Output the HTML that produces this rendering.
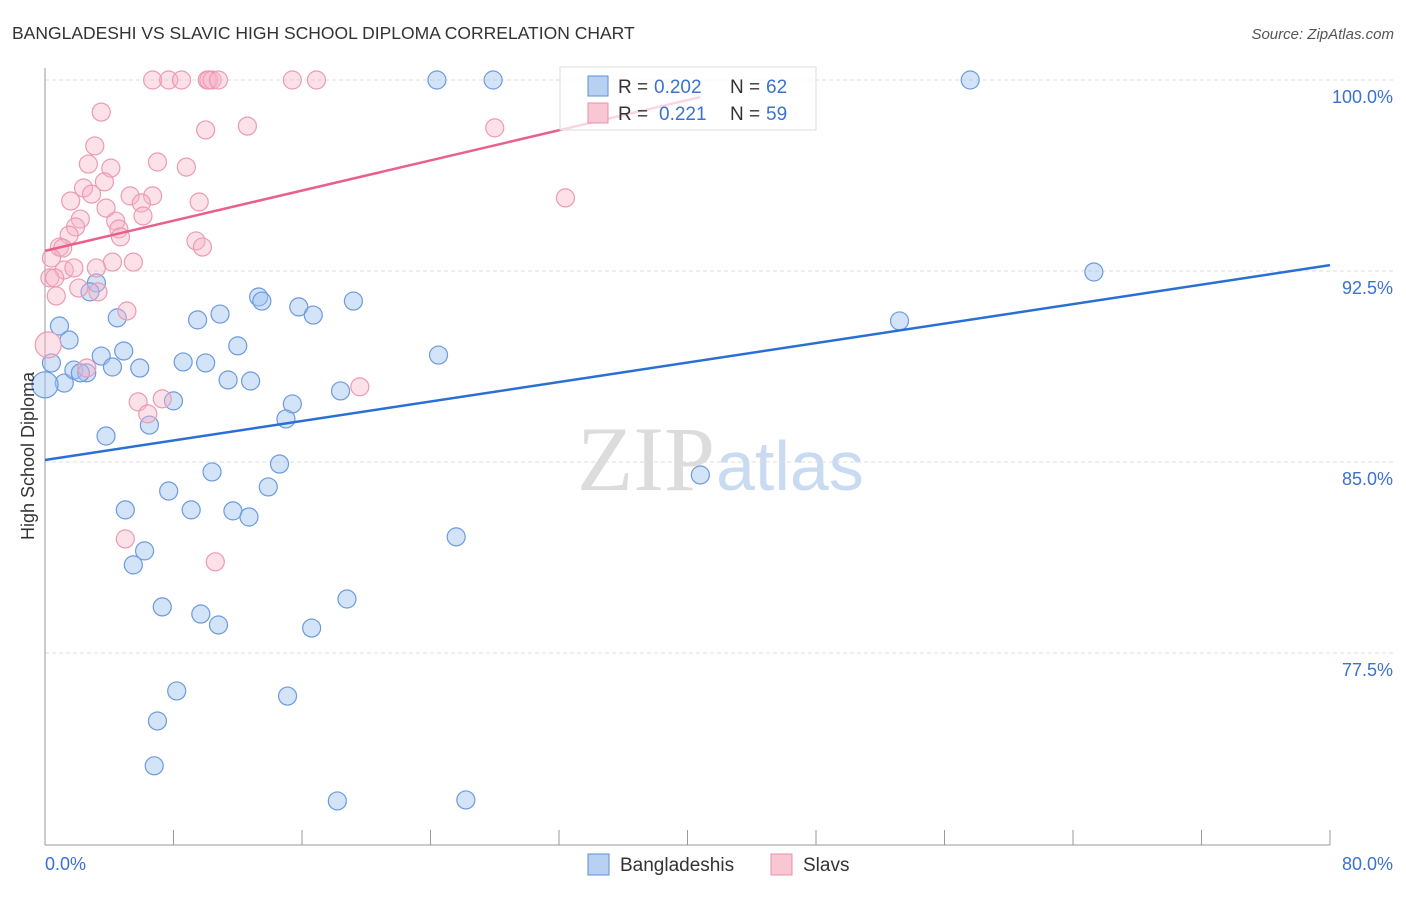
<!DOCTYPE html>
<html><head><meta charset="utf-8"><style>
body{margin:0;background:#fff;font-family:"Liberation Sans",sans-serif;}
</style></head><body>
<svg id="c" width="1406" height="892" xmlns="http://www.w3.org/2000/svg" style="font-family:'Liberation Sans',sans-serif">
<text x="12" y="39" font-size="17.5" fill="#333">BANGLADESHI VS SLAVIC HIGH SCHOOL DIPLOMA CORRELATION CHART</text>
<text x="1394" y="39" font-size="15" fill="#555" font-style="italic" text-anchor="end">Source: ZipAtlas.com</text>
<text x="715" y="490" font-size="92" fill="#dcdcdc" text-anchor="end" font-family="Liberation Serif,serif">ZIP</text>
<text x="716" y="490" font-size="70" fill="#c9dbf2">atlas</text>
<g id="grid"></g><g id="axes"></g><g id="pts"></g><g id="lines"></g>
<text transform="translate(34,456) rotate(-90)" font-size="18" fill="#333" text-anchor="middle">High School Diploma</text>
<g>
<rect x="560" y="67" width="256" height="63" fill="rgba(255,255,255,0.75)" stroke="#ddd"/>
<rect x="588" y="76" width="20" height="20" fill="#b8d1f3" stroke="#5b8fd6"/>
<text x="618" y="93" font-size="19" fill="#333">R =</text>
<text x="654" y="93" font-size="19" fill="#3a72d0">0.202</text>
<text x="730" y="93" font-size="19" fill="#333">N =</text>
<text x="766" y="93" font-size="19" fill="#3a72d0">62</text>
<rect x="588" y="103" width="20" height="20" fill="#f9c6d4" stroke="#e890aa"/>
<text x="618" y="120" font-size="19" fill="#333">R =</text>
<text x="659" y="120" font-size="19" fill="#3a72d0">0.221</text>
<text x="730" y="120" font-size="19" fill="#333">N =</text>
<text x="766" y="120" font-size="19" fill="#3a72d0">59</text>
</g>
<g>
<rect x="588" y="854" width="21" height="21" fill="#b8d1f3" stroke="#5b8fd6"/>
<text x="620" y="871" font-size="19" fill="#333">Bangladeshis</text>
<rect x="771" y="854" width="21" height="21" fill="#f9c6d4" stroke="#e890aa"/>
<text x="803" y="871" font-size="19" fill="#333">Slavs</text>
</g>
</svg>
<script>
const xTicks=[0,10,20,30,40,50,60,70,80];
const yTicks=[77.5,85,92.5,100];
const blueX=[24.4,27.9,57.6,65.3,53.2,0.9,1.5,0.4,1.2,0,1.8,2.6,2.2,3.2,2.8,4.5,3.5,4.2,4.9,5.9,3.8,6.5,8.0,8.6,9.5,10.9,10.0,12.0,11.4,12.8,13.3,13.5,15.8,16.7,19.2,15.4,15.0,18.4,24.5,10.4,14.6,13.9,7.7,9.1,5.0,11.7,12.7,6.2,5.5,40.8,25.6,7.3,9.7,10.8,18.8,16.6,8.2,15.1,7.0,6.8,18.2,26.2];
const blueY=[100,100,100,92.46,90.54,90.34,89.79,88.89,88.1,88.03,88.61,88.5,88.5,92.03,91.68,90.66,89.16,88.73,89.36,88.69,86.02,86.45,87.4,88.93,90.58,90.81,88.89,89.56,88.22,88.18,91.48,91.32,91.09,90.77,91.32,87.28,86.69,87.79,89.2,84.61,84.92,84.02,83.86,83.12,83.12,83.08,82.84,81.51,80.96,84.49,82.06,79.31,79.03,78.6,79.62,78.48,76.01,75.81,74.83,73.07,71.69,71.73];
const pinkX=[6.7,7.7,8.5,10.1,10.2,10.4,10.8,15.4,16.9,3.5,3.1,2.7,4.1,7.0,8.8,10.0,12.6,28.0,32.4,2.4,2.9,3.7,5.3,6.7,1.6,6.0,9.6,3.8,2.2,4.4,6.1,1.9,4.6,4.7,1.5,0.9,1.1,9.4,9.8,0.4,4.2,5.5,1.2,1.8,3.2,0.3,0.6,2.1,3.3,0.7,5.1,0.2,2.6,19.6,5.8,7.3,6.4,5.0,10.6];
const pinkY=[100,100,100,100,100,100,100,100,100,98.74,97.41,96.7,96.54,96.78,96.58,98.04,98.19,98.12,95.37,95.76,95.52,96.0,95.45,95.45,95.25,95.17,95.21,94.97,94.54,94.46,94.66,94.23,94.15,93.84,93.91,93.44,93.4,93.68,93.44,93.01,92.85,92.85,92.54,92.62,92.62,92.23,92.23,91.83,91.68,91.52,90.93,89.6,88.69,87.95,87.36,87.48,86.89,81.98,81.08];
const blueFit=[85.08,92.73];
const pinkFit=[93.29,99.33];
const pinkFitEnd=40.8;
const NS="http://www.w3.org/2000/svg";
const X=v=>45+v*(1285/80);
const Y=v=>80+(100-v)*(191/7.5);
function mk(tag,attrs,parent){const e=document.createElementNS(NS,tag);for(const k in attrs)e.setAttribute(k,attrs[k]);parent.appendChild(e);return e;}
const grid=document.getElementById('grid'),axes=document.getElementById('axes'),pts=document.getElementById('pts'),lines=document.getElementById('lines');
yTicks.forEach(t=>{
 const l=mk('line',{x1:45,x2:1393,y1:Y(t),y2:Y(t),stroke:'#ddd','stroke-dasharray':'4,3'},grid);
 
 
 const tx=mk('text',{x:1393,y:Y(t)+23,'font-size':18,fill:'#3a72d0','text-anchor':'end'},grid);
 tx.textContent=t.toFixed(1)+'%';
 
 
});
mk('line',{x1:45,x2:45,y1:68,y2:845,stroke:'#999'},axes);
mk('line',{x1:45,x2:1330,y1:845,y2:845,stroke:'#999'},axes);
for(let i=0;i<=10;i++){const x=45+i*128.5;const t=mk('line',{x1:x,x2:x,y1:830,y2:845,stroke:'#999'},axes);
 
 }
[[0,'0.0%','start',45],[80,'80.0%','end',1393]].forEach(a=>{const t=mk('text',{x:a[3],y:870,'font-size':18,fill:'#3a72d0','text-anchor':a[2]},axes);t.textContent=a[1];
 
 });
function dots(xs,ys,fill,stroke,name){xs.forEach((v,i)=>{const r=(v<0.3)?13:9;
 const c=mk('circle',{cx:X(v),cy:Y(ys[i]),r:r,fill:fill,stroke:stroke,'stroke-width':1.2},pts);
 
 });}
dots(blueX,blueY,'rgba(160,195,240,0.45)','#6b9ae0','bangladeshi-point');
dots(pinkX,pinkY,'rgba(248,180,200,0.4)','#ec9ab3','slav-point');
const bl=mk('line',{x1:X(0),y1:Y(blueFit[0]),x2:X(80),y2:Y(blueFit[1]),stroke:'#2a6fd6','stroke-width':2.5},lines);


const pl=mk('line',{x1:X(0),y1:Y(pinkFit[0]),x2:X(pinkFitEnd),y2:Y(pinkFit[1]),stroke:'#e8608c','stroke-width':2.5},lines);


</script>
</body></html>
